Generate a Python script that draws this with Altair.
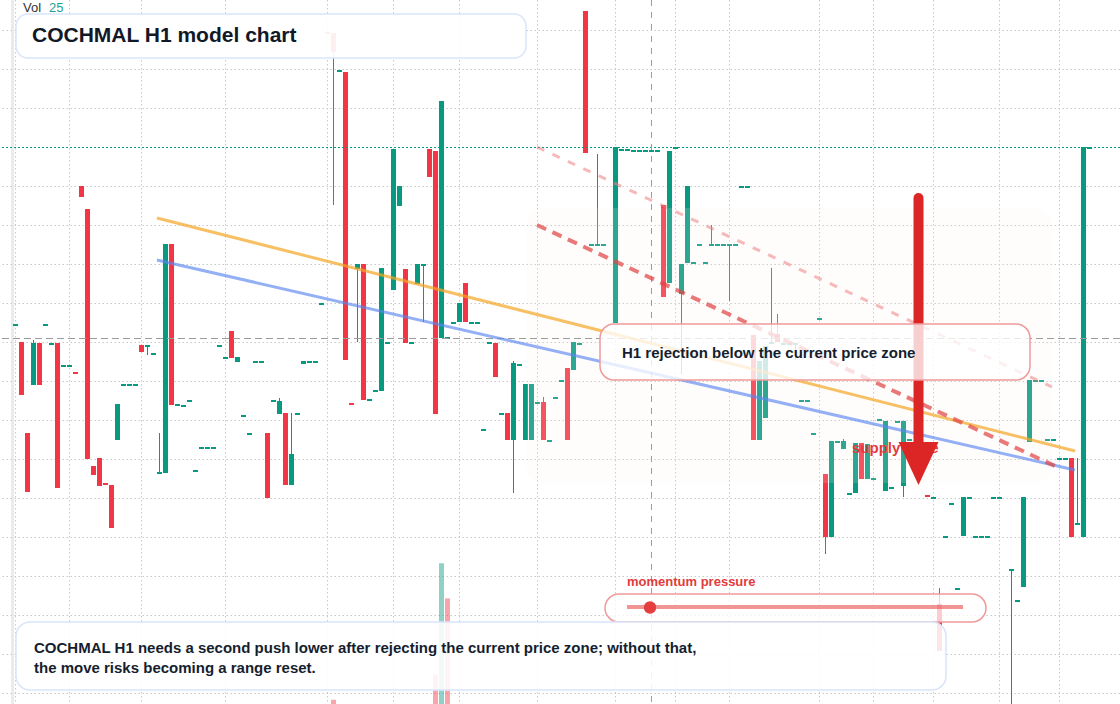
import altair as alt
import pandas as pd

# ---------------------------------------------------------------------------
# COCHMAL H1 bars: one slot per hourly bar (slot 0 is the first full bar)
# ---------------------------------------------------------------------------
slots = (list(range(-1, 98)) + list(range(99, 149))
         + list(range(151, 164)) + list(range(165, 179)))

opens = [
    4.76, 4.58, 3.67, 4.15, 4.57, 4.76, 4.57, 4.57, 4.35, 4.35, 4.28,
    6.14, 5.91, 3.34, 3.42, 3.17, 3.15, 3.60, 4.16, 4.16, 4.16,
    4.55, 4.55, 4.47, 3.28, 3.27, 5.56, 3.96, 3.95, 4.00, 3.30,
    3.53, 3.53, 3.53, 4.55, 4.43, 4.69, 4.38, 3.85, 3.67, 4.39,
    4.39, 3.67, 4.00, 3.86, 3.87, 3.15, 3.87, 4.36, 4.39, 4.39,
    4.97, 7.68, 7.67, 7.30, 7.28, 3.97, 5.31, 5.36, 4.01, 4.10,
    4.09, 4.58, 5.10, 5.94, 5.31, 4.58, 5.16, 5.36, 6.51, 6.49,
    4.62, 4.63, 4.78, 4.78, 5.17, 4.78, 4.78, 3.71, 4.58, 4.57,
    3.87, 3.87, 3.60, 4.36, 3.60, 3.60, 3.98, 3.98, 3.60, 4.03,
    4.20, 4.32, 4.30, 4.57, 7.89, 5.56, 5.56, 5.56,
    4.77, 6.51, 6.51, 6.50, 6.50, 6.50, 6.50, 6.50, 5.95, 5.17,
    6.53, 5.06, 5.37, 5.38, 5.56, 5.38, 5.56, 5.56, 5.56, 5.56,
    5.56, 6.14, 6.14, 4.65, 3.60, 3.82, 4.58, 4.66, 4.57, 4.57,
    4.57, 4.00, 4.00, 3.67, 4.82, 3.26, 2.63, 3.59, 3.51, 3.07,
    3.07, 3.57, 3.21, 3.22, 3.81, 3.09, 3.13, 3.79, 3.14, 3.61,
    3.05, 3.03, 1.96, 2.64, 2.97, 2.12, 2.64, 3.03, 2.64, 2.64, 2.64, 3.03, 3.03,
    2.31, 2.00, 2.13, 3.58, 4.20, 4.20, 3.61, 3.61, 3.42, 3.42, 3.42, 2.77, 2.63, 6.53,
]

highs = [
    4.76, 4.58, 3.67, 4.60, 4.57, 4.76, 4.57, 4.57, 4.35, 4.35, 4.28,
    6.14, 5.91, 3.34, 3.42, 3.17, 3.15, 3.96, 4.16, 4.16, 4.16,
    4.55, 4.55, 4.47, 3.67, 5.56, 5.56, 3.96, 3.95, 4.00, 3.30,
    3.53, 3.53, 3.53, 4.55, 4.43, 4.69, 4.43, 3.85, 3.67, 4.39,
    4.39, 3.67, 4.00, 4.02, 3.87, 3.87, 3.87, 4.39, 4.39, 4.39,
    4.97, 7.68, 7.67, 7.30, 7.28, 3.97, 5.36, 5.36, 4.01, 4.10,
    5.32, 4.58, 6.51, 6.14, 5.31, 4.58, 5.36, 5.36, 6.51, 6.49,
    6.99, 4.63, 4.78, 4.97, 5.17, 4.78, 4.78, 3.71, 4.58, 4.57,
    3.87, 3.87, 4.39, 4.36, 4.16, 4.16, 3.98, 4.03, 3.60, 4.03,
    4.20, 4.32, 4.58, 4.57, 7.89, 5.56, 6.46, 5.56,
    6.53, 6.51, 6.51, 6.50, 6.50, 6.50, 6.50, 6.50, 5.95, 6.49,
    6.53, 5.36, 6.14, 5.38, 5.56, 5.38, 5.75, 5.56, 5.56, 5.56,
    5.56, 6.14, 6.14, 4.65, 4.39, 4.54, 5.32, 4.86, 4.57, 4.57,
    4.57, 4.00, 4.00, 3.67, 4.82, 3.26, 3.59, 3.59, 3.61, 3.07,
    3.57, 3.57, 3.56, 3.22, 3.81, 3.79, 3.13, 3.79, 3.79, 3.61,
    3.05, 3.03, 2.12, 2.64, 2.97, 2.12, 3.03, 3.03, 2.64, 2.64, 2.64, 3.03, 3.03,
    2.31, 2.00, 3.03, 4.20, 4.20, 4.20, 3.61, 3.61, 3.42, 3.42, 3.42, 3.42, 6.53, 6.53,
]

lows = [
    4.76, 4.05, 3.08, 4.15, 4.15, 4.76, 4.57, 3.12, 4.35, 4.35, 4.27,
    6.03, 3.41, 3.25, 3.14, 3.16, 2.72, 3.60, 4.16, 4.16, 4.16,
    4.48, 4.45, 4.47, 3.28, 3.27, 3.95, 3.96, 3.95, 4.00, 3.30,
    3.53, 3.53, 3.53, 4.55, 4.43, 4.42, 4.38, 3.85, 3.67, 4.39,
    4.39, 3.02, 4.00, 3.86, 3.15, 3.15, 3.87, 4.36, 4.39, 4.39,
    4.97, 7.67, 5.95, 7.30, 4.40, 3.96, 4.58, 4.00, 4.01, 4.10,
    4.09, 4.58, 5.10, 5.94, 4.57, 4.58, 5.16, 4.78, 6.23, 3.86,
    4.62, 4.63, 4.78, 4.78, 4.78, 4.78, 4.78, 3.71, 4.58, 4.23,
    3.87, 3.60, 3.07, 4.36, 3.60, 3.60, 3.98, 3.60, 3.60, 4.03,
    4.20, 3.60, 4.30, 4.57, 6.47, 5.56, 5.56, 5.56,
    4.77, 6.51, 6.51, 6.50, 6.50, 6.50, 6.50, 6.50, 5.03, 5.17,
    6.53, 4.26, 5.37, 5.38, 5.56, 5.38, 5.56, 5.56, 5.56, 4.99,
    5.56, 6.14, 6.14, 3.60, 3.60, 3.82, 4.58, 4.58, 4.57, 4.57,
    4.40, 4.00, 4.00, 3.67, 4.82, 2.46, 2.63, 3.59, 3.51, 3.07,
    3.07, 3.21, 3.21, 3.22, 3.81, 3.09, 3.13, 3.79, 3.03, 3.61,
    3.04, 3.03, 1.49, 2.64, 2.97, 2.12, 2.64, 3.03, 2.64, 2.64, 2.64, 3.03, 3.03,
    0.90, 2.00, 2.13, 3.58, 4.20, 4.20, 3.61, 3.61, 3.42, 3.42, 2.63, 2.77, 2.63, 6.53,
]

closes = [
    4.76, 4.05, 3.08, 4.57, 4.15, 4.76, 4.57, 3.12, 4.35, 4.35, 4.27,
    6.03, 3.41, 3.25, 3.14, 3.16, 2.72, 3.96, 4.16, 4.16, 4.16,
    4.48, 4.55, 4.47, 3.28, 5.56, 3.95, 3.96, 3.95, 4.00, 3.30,
    3.53, 3.53, 3.53, 4.55, 4.43, 4.42, 4.43, 3.85, 3.67, 4.39,
    4.39, 3.02, 4.00, 3.99, 3.15, 3.46, 3.87, 4.39, 4.39, 4.39,
    4.97, 7.67, 7.48, 7.30, 4.40, 3.96, 5.36, 4.00, 4.01, 4.10,
    5.32, 4.58, 6.51, 6.14, 4.57, 4.58, 5.36, 5.36, 6.23, 3.86,
    6.99, 4.63, 4.78, 4.97, 4.78, 4.78, 4.78, 3.71, 4.58, 4.23,
    3.87, 3.60, 4.37, 4.36, 4.16, 4.16, 3.98, 3.60, 3.60, 4.03,
    4.20, 3.60, 4.58, 4.57, 6.47, 5.56, 5.56, 5.56,
    6.53, 6.51, 6.51, 6.50, 6.50, 6.50, 6.50, 6.50, 5.03, 6.49,
    6.53, 5.36, 6.14, 5.38, 5.56, 5.38, 5.56, 5.56, 5.56, 5.56,
    5.56, 6.14, 6.14, 3.60, 4.39, 4.54, 4.58, 4.58, 4.57, 4.57,
    4.57, 4.00, 4.00, 3.67, 4.82, 2.63, 3.59, 3.59, 3.59, 3.07,
    3.57, 3.21, 3.56, 3.22, 3.81, 3.79, 3.13, 3.79, 3.79, 3.61,
    3.04, 3.03, 1.49, 2.64, 2.97, 2.12, 3.03, 3.03, 2.64, 2.64, 2.64, 3.03, 3.03,
    2.31, 2.00, 3.03, 4.20, 4.20, 4.20, 3.61, 3.61, 3.42, 3.42, 2.63, 2.77, 6.53, 6.53,
]

# volume pane (only the bars tall enough to show)
vol_slots = [52, 69, 70, 71]
vol_values = [0.3, 2.1, 10.0, 7.5]
vol_dirs = ["down", "down", "up", "down"]

# chart furniture
grid_prices = [7.695, 7.305, 6.915, 6.525, 6.135, 5.745, 5.355, 4.965, 4.575,
               4.185, 3.795, 3.405, 3.015, 2.625, 2.235, 1.845, 1.455, 1.065]
grid_slots = [-1, 8, 20, 34, 51, 62, 73, 86, 99, 109, 118, 133, 142, 152, 163, 173]
last_price = 6.525
cross_slot, cross_price = 105, 4.615

# drawn studies
orange_slots, orange_prices = [22.58, 175.58], [5.82, 3.49]
blue_slots, blue_prices = [22.58, 175.58], [5.40, 3.30]
red_slots, red_prices = [85.92, 172.25], [5.75, 3.34]
pink_slots, pink_prices = [85.92, 171.75], [6.53, 4.13]
zone_slots, zone_prices = [84.25, 171.75], [5.92, 3.17]
arrow_slot, arrow_from, arrow_to, arrow_tip = 149.5, 6.02, 3.55, 3.365
zone_label_slot, zone_label_price = 138.42, 3.525

title_text = "COCHMAL H1 model chart"
callout_text = "H1 rejection below the current price zone"
gauge_label = "momentum pressure"
note_lines = ["COCHMAL H1 needs a second push lower after rejecting the current price zone; without that,",
              "the move risks becoming a range reset."]
vol_label, vol_value = "Vol", "25"

TEAL, RED = "#089981", "#f23645"
INK = "#151e2e"
FONT = "Liberation Sans"

xs = alt.Scale(domain=[-3.5833333, 183.0833333], nice=False, zero=False)
ys = alt.Scale(domain=[0.96, 8.0], nice=False, zero=False)
dir_color = alt.Scale(domain=["up", "down"], range=[TEAL, RED])

bars = pd.DataFrame({"slot": slots, "open": opens, "high": highs,
                     "low": lows, "close": closes})
bars["dir"] = ["up" if c >= o else "down" for o, c in zip(opens, closes)]
vol = pd.DataFrame({"slot": vol_slots, "volume": vol_values, "dir": vol_dirs})


def X(field):
    return alt.X(field, type="quantitative", scale=xs, axis=None)


def Y(field):
    return alt.Y(field, type="quantitative", scale=ys, axis=None)


one = alt.Data(values=[{}])

# left price-scale gutter
gutter = alt.Chart(one).mark_rect(fill="#ebebeb").encode(
    x=alt.value(11), x2=alt.value(14), y=alt.value(0), y2=alt.value(704))

grid_h = alt.Chart(pd.DataFrame({"p": grid_prices})).mark_rule(
    stroke="#c8c8c8", strokeWidth=1, strokeDash=[1.5, 2.5]).encode(y=Y("p"))
grid_v = alt.Chart(pd.DataFrame({"s": grid_slots})).mark_rule(
    stroke="#c8c8c8", strokeWidth=1, strokeDash=[1.5, 2.5]).encode(x=X("s"))

volume = alt.Chart(vol).transform_calculate(
    x0="datum.slot - 0.42", x1="datum.slot + 0.42",
    v0="0.96", v1="0.96 + datum.volume * 0.1408",
).mark_rect(opacity=0.45).encode(
    x=X("x0"), x2="x1:Q", y=Y("v1"), y2="v0:Q",
    color=alt.Color("dir:N", scale=dir_color, legend=None))

wicks = alt.Chart(bars).mark_rule(strokeWidth=1).encode(
    x=X("slot"), y=Y("high"), y2="low:Q",
    color=alt.Color("dir:N", scale=dir_color, legend=None))

bodies = alt.Chart(bars).transform_calculate(
    x0="datum.slot - 0.42", x1="datum.slot + 0.42",
    top="max(datum.open, datum.close)",
).transform_calculate(
    bot="min(min(datum.open, datum.close), datum.top - 0.02)"
).mark_rect().encode(
    x=X("x0"), x2="x1:Q", y=Y("top"), y2="bot:Q",
    color=alt.Color("dir:N", scale=dir_color, legend=None))

zone = alt.Chart(pd.DataFrame({"s0": [zone_slots[0]], "s1": [zone_slots[1]],
                               "p0": [zone_prices[0]], "p1": [zone_prices[1]]})).mark_rect(
    fill="#faf1ea", opacity=0.16, cornerRadius=16).encode(
    x=X("s0"), x2="s1:Q", y=Y("p0"), y2="p1:Q")

last_line = alt.Chart(pd.DataFrame({"p": [last_price]})).mark_rule(
    stroke=TEAL, strokeWidth=1, strokeDash=[2, 2]).encode(y=Y("p"))
cross_h = alt.Chart(pd.DataFrame({"p": [cross_price]})).mark_rule(
    stroke="#9c9c9c", strokeWidth=1, strokeDash=[7, 4]).encode(y=Y("p"))
cross_v = alt.Chart(pd.DataFrame({"s": [cross_slot]})).mark_rule(
    stroke="#9c9c9c", strokeWidth=1, strokeDash=[6, 6]).encode(x=X("s"))


def trend(sl, pr, **style):
    return alt.Chart(pd.DataFrame({"slot": sl, "price": pr})).mark_line(**style).encode(
        x=X("slot"), y=Y("price"))


orange = trend(orange_slots, orange_prices, color="#f5a524", strokeWidth=3, opacity=0.7)
blue = trend(blue_slots, blue_prices, color="#5b86f0", strokeWidth=3, opacity=0.65)
red_dash = trend(red_slots, red_prices, color="#e04545", strokeWidth=4, opacity=0.72,
                 strokeDash=[10, 7])
pink_dash = trend(pink_slots, pink_prices, color="#ec8282", strokeWidth=3, opacity=0.55,
                  strokeDash=[8, 9])

zone_label = alt.Chart(pd.DataFrame({"s": [zone_label_slot], "p": [zone_label_price],
                                     "t": ["supply zone"]})).mark_text(
    align="left", baseline="middle", font=FONT, fontSize=15, fontWeight="bold",
    color="#e23b3b").encode(x=X("s"), y=Y("p"), text="t:N")

shaft = alt.Chart(pd.DataFrame({"s": [arrow_slot], "p0": [arrow_from], "p1": [arrow_to]})).mark_rule(
    color="#dc2626", strokeWidth=10, strokeCap="round").encode(x=X("s"), y=Y("p0"), y2="p1:Q")
head = alt.Chart(pd.DataFrame({"s": [arrow_slot], "p": [arrow_tip]})).mark_point(
    shape="M-1,-1.075L1,-1.075L0,1.075Z", size=1600, filled=True, opacity=1,
    color="#dc2626").encode(x=X("s"), y=Y("p"))


def box(x0, x1, y0, y1, stroke, opacity, radius):
    return alt.Chart(one).mark_rect(fill="white", fillOpacity=opacity, stroke=stroke,
                                    strokeWidth=1.5, cornerRadius=radius).encode(
        x=alt.value(x0), x2=alt.value(x1), y=alt.value(y0), y2=alt.value(y1))


def label(x, y, text, size, color, weight="bold"):
    return alt.Chart(one).mark_text(align="left", baseline="middle", font=FONT,
                                    fontSize=size, fontWeight=weight, color=color).encode(
        x=alt.value(x), y=alt.value(y), text=alt.value(text))


callout_box = box(600, 1030, 324, 380, "#ef9a9a", 0.78, 14)
callout_txt = label(622, 353, callout_text, 15, INK)

pill = box(605, 986, 594, 622, "#ef9a9a", 0.75, 14)
gauge = alt.Chart(one).mark_rule(color="#e74c4c", opacity=0.6, strokeWidth=4).encode(
    x=alt.value(627), x2=alt.value(963), y=alt.value(607))
gauge_dot = alt.Chart(one).mark_point(filled=True, size=154, opacity=1, color="#e53e3e").encode(
    x=alt.value(650), y=alt.value(607.5))
gauge_txt = label(627, 582, gauge_label, 13, "#e23b3b")

note_box = box(16, 946, 622, 690, "#d9e5fa", 0.88, 14)
note_1 = label(34, 648, note_lines[0], 15, INK)
note_2 = label(34, 668, note_lines[1], 15, INK)

title_box = box(16, 526, 14, 58, "#d9e5fa", 0.92, 12)
title_txt = label(32, 36, title_text, 21, "#111827")
vol_txt = label(23, 8, vol_label, 13, "#333333", weight="normal")
vol_num = label(49, 8, vol_value, 13, "#22a393", weight="normal")

chart = alt.layer(
    gutter, grid_h, grid_v, volume, wicks, bodies, zone,
    last_line, cross_h, cross_v,
    orange, blue, red_dash, pink_dash,
    zone_label, shaft, head,
    callout_box, callout_txt,
    pill, gauge, gauge_dot, gauge_txt,
    note_box, note_1, note_2,
    title_box, title_txt, vol_txt, vol_num,
).properties(
    width=1120, height=704, padding=0,
    autosize=alt.AutoSizeParams(type="none"),
    background="white",
).configure_view(stroke=None)

chart.save("out.html", embed_options={"renderer": "svg", "actions": False})
